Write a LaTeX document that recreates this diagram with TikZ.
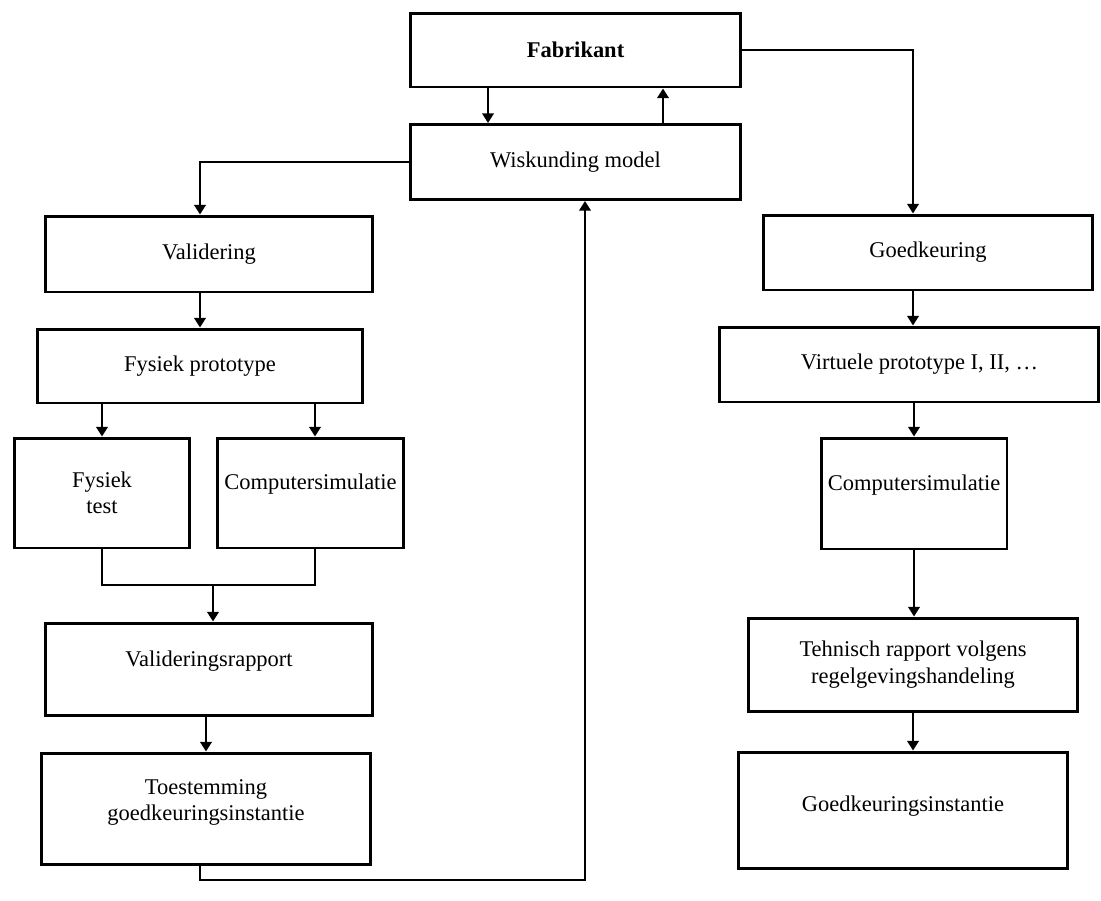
\documentclass[tikz,border=0pt]{standalone}
\usepackage{fontspec}
\setmainfont{Liberation Serif}
\usetikzlibrary{arrows.meta,calc}

\begin{document}
\begin{tikzpicture}[x=0.02cm, y=-0.02cm,
		box/.style={draw, line width=1.7pt, align=center, inner sep=2pt,
			font=\fontsize{12.8pt}{15pt}\selectfont},
		arr/.style={line width=1.4pt, -{Triangle[width=6.5pt,length=5.5pt]}},
		link/.style={line width=1.4pt}]
	\useasboundingbox (0,0) rectangle (1101,900);

	% top: manufacturer and model
	\node[box, minimum width=6.62cm, minimum height=1.48cm] (fab) at (575.5,50) {\textbf{Fabrikant}};
	\node[box, minimum width=6.62cm, minimum height=1.5cm] (wis) at (575.5,162) {Wiskunding model};

	% left branch
	\node[box, minimum width=6.56cm, minimum height=1.52cm] (val) at (209,254) {Validering};
	\node[box, minimum width=6.52cm, minimum height=1.48cm] (fproto) at (200,366) {Fysiek prototype};
	\node[box, minimum width=3.52cm, minimum height=2.2cm] (ftest) at (102,493) {Fysiek\\test};
	\node[box, minimum width=3.74cm, minimum height=2.2cm, text depth=0.45cm] (csimL) at (310.5,493) {Computersimulatie};
	\node[box, minimum width=6.56cm, minimum height=1.84cm, text depth=0.42cm] (vrap) at (209,669) {Valideringsrapport};
	\node[box, minimum width=6.58cm, minimum height=2.22cm, text depth=0.35cm] (toest) at (206,808.5) {Toestemming\\goedkeuringsinstantie};

	% right branch
	\node[box, minimum width=6.6cm, minimum height=1.5cm] (good) at (928,252.5) {Goedkeuring};
	\node[box, minimum width=7.6cm, minimum height=1.5cm] (virt) at (909,364.5) {\hspace{12pt}Virtuele prototype I, II, \dots};
	\node[box, minimum width=3.72cm, minimum height=2.22cm, text depth=0.45cm] (csimR) at (914,493.5) {Computersimulatie};
	\node[box, minimum width=6.6cm, minimum height=1.86cm] (tech) at (913,664.5) {Tehnisch rapport volgens\\regelgevingshandeling};
	\node[box, minimum width=6.6cm, minimum height=2.32cm, text depth=0.27cm] (inst) at (903,810) {Goedkeuringsinstantie};

	\coordinate (merge) at (213,585);
	\coordinate (back) at (585,880);

	% connectors top
	\draw[arr] ($(fab.south)+(-87.5,0)$) coordinate (f1) -- (f1 |- wis.north);
	\draw[arr] ($(wis.north)+(87.5,0)$) coordinate (w1) -- (w1 |- fab.south);
	\draw[arr] (wis.west) -| ($(val.north)+(-9,0)$);
	\draw[arr] (fab.east) -| ($(good.north)+(-15,0)$);

	% connectors left
	\draw[arr] (fproto.north |- val.south) -- (fproto.north);
	\draw[arr] (ftest.north |- fproto.south) -- (ftest.north);
	\draw[arr] ($(csimL.north |- fproto.south)+(4.5,0)$) coordinate (p1) -- (p1 |- csimL.north);
	\draw[link] (ftest.south) |- (merge) -| ($(csimL.south)+(4.5,0)$);
	\draw[arr] (merge) -- (merge |- vrap.north);
	\draw[arr] (toest.north |- vrap.south) -- (toest.north);
	\draw[arr] ($(toest.south)+(-6,0)$) |- (back) -- (back |- wis.south);

	% connectors right
	\draw[arr] ($(good.south)+(-15,0)$) coordinate (g1) -- (g1 |- virt.north);
	\draw[arr] (csimR.north |- virt.south) -- (csimR.north);
	\draw[arr] (csimR.south) -- (csimR.south |- tech.north);
	\draw[arr] (tech.south) -- (tech.south |- inst.north);
\end{tikzpicture}
\end{document}
